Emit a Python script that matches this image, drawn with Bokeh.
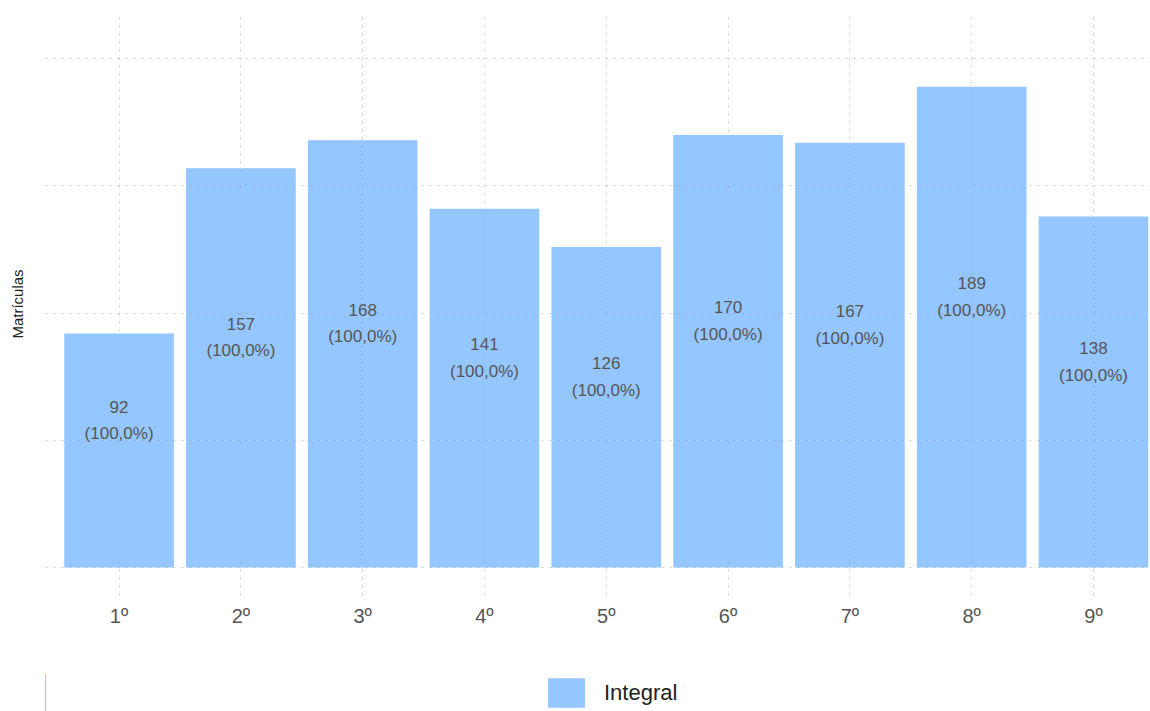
from bokeh.plotting import figure
from bokeh.layouts import column
from bokeh.models import (Range1d, FixedTicker, Legend, LegendItem, ColumnDataSource)
from bokeh.embed import file_html
from bokeh.resources import INLINE
from bokeh.core.properties import value

categories = ["1º", "2º", "3º", "4º", "5º", "6º", "7º", "8º", "9º"]
matriculas = [92, 157, 168, 141, 126, 170, 167, 189, 138]
percentuais = ["(100,0%)", "(100,0%)", "(100,0%)", "(100,0%)", "(100,0%)",
               "(100,0%)", "(100,0%)", "(100,0%)", "(100,0%)"]
serie = "Integral"
y_ticks = [0, 50, 100, 150, 200]

FONT = "Liberation Sans"
BAR_COLOR = "#94C6FF"

xs = list(range(len(categories)))
src = ColumnDataSource(dict(
    x=xs,
    top=matriculas,
    mid=[v / 2 for v in matriculas],
    val=[str(v) for v in matriculas],
    pct=percentuais,
))

# ---------------- main chart ----------------
p = figure(width=1150, height=674, output_backend="svg", toolbar_location=None,
           x_range=Range1d(-0.604, 8.468), y_range=Range1d(-11, 218.2),
           min_border_left=45, min_border_right=0, min_border_top=12,
           min_border_bottom=79)
p.outline_line_color = None
p.background_fill_color = "white"

bars = p.vbar(x="x", top="top", width=0.9, bottom=0, source=src,
              fill_color=BAR_COLOR, line_color=None)

p.text(x="x", y="mid", text="val", source=src, y_offset=-44,
       text_align="center", text_baseline="middle",
       text_font=value(FONT), text_font_size="17px", text_color="#555555")
p.text(x="x", y="mid", text="pct", source=src, y_offset=-17,
       text_align="center", text_baseline="middle",
       text_font=value(FONT), text_font_size="17px", text_color="#555555")

p.xaxis.ticker = FixedTicker(ticks=xs)
p.xaxis.major_label_overrides = {i: c for i, c in enumerate(categories)}
p.xaxis.axis_line_color = None
p.xaxis.major_tick_line_color = None
p.xaxis.minor_tick_line_color = None
p.xaxis.major_label_text_font = FONT
p.xaxis.major_label_text_font_size = "20px"
p.xaxis.major_label_text_color = "#555555"
p.xaxis.major_label_standoff = 3

p.yaxis.ticker = FixedTicker(ticks=[])
p.yaxis.axis_line_color = None
p.yaxis.major_tick_line_color = None
p.yaxis.minor_tick_line_color = None
p.yaxis.major_label_standoff = 0
p.yaxis.axis_label = "Matrículas"
p.yaxis.axis_label_text_font = FONT
p.yaxis.axis_label_text_font_size = "15px"
p.yaxis.axis_label_text_font_style = "normal"
p.yaxis.axis_label_text_color = "#222222"
p.yaxis.axis_label_standoff = 20

for g in (p.xgrid, p.ygrid):
    g.grid_line_color = "#999999"
    g.grid_line_alpha = 0.5
    g.grid_line_dash = "2 6"
    g.grid_line_width = 1
    g.level = "overlay"
p.xgrid.ticker = FixedTicker(ticks=xs)
p.ygrid.ticker = FixedTicker(ticks=y_ticks)

# ---------------- legend strip ----------------
lg = figure(width=1150, height=37, output_backend="svg", toolbar_location=None,
            x_range=Range1d(100, 101), y_range=Range1d(0, 1),
            min_border_left=0, min_border_right=0, min_border_top=0,
            min_border_bottom=0)
lg.outline_line_color = None
lg.xaxis.visible = False
lg.yaxis.visible = False
lg.xgrid.visible = False
lg.ygrid.visible = False
swatch = lg.vbar(x="x", top="top", width=0.9, bottom=0, source=src,
                 fill_color=BAR_COLOR, line_color=None)

legend = Legend(items=[LegendItem(label=serie, renderers=[swatch])],
                location=(498, 0), orientation="horizontal",
                glyph_width=46, glyph_height=37, label_height=37,
                label_standoff=15, padding=0, margin=0,
                label_text_font=FONT, label_text_font_size="22px",
                label_text_color="#222222", border_line_color=None,
                background_fill_alpha=0)
lg.add_layout(legend, "center")

layout = column(p, lg, spacing=0)
open("out.html", "w").write(file_html(layout, INLINE))
